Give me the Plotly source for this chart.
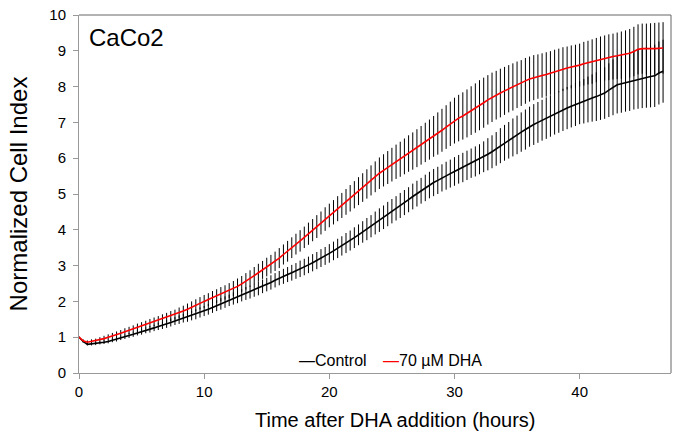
import plotly.graph_objects as go

# Sampling: one reading every 20 minutes, 0 .. 46.67 h
SAMPLE_MIN = 20
N_POINTS = 141
time_h = [round(i * SAMPLE_MIN / 60, 4) for i in range(N_POINTS)]

control = [
    1.00, 0.88, 0.80, 0.81, 0.82, 0.84, 0.86, 0.88, 0.91, 0.94,
    0.98, 1.01, 1.05, 1.08, 1.12, 1.15, 1.19, 1.22, 1.26, 1.30,
    1.33, 1.37, 1.41, 1.45, 1.49, 1.53, 1.56, 1.60, 1.64, 1.69,
    1.73, 1.78, 1.83, 1.88, 1.93, 1.98, 2.03, 2.08, 2.12, 2.17,
    2.22, 2.26, 2.31, 2.36, 2.42, 2.47, 2.53, 2.59, 2.65, 2.70,
    2.75, 2.80, 2.85, 2.91, 2.96, 3.02, 3.08, 3.14, 3.21, 3.27,
    3.34, 3.41, 3.48, 3.55, 3.63, 3.70, 3.78, 3.86, 3.94, 4.02,
    4.10, 4.19, 4.27, 4.35, 4.44, 4.52, 4.60, 4.68, 4.76, 4.84,
    4.93, 5.01, 5.09, 5.17, 5.25, 5.32, 5.38, 5.45, 5.51, 5.57,
    5.63, 5.69, 5.74, 5.80, 5.86, 5.91, 5.97, 6.04, 6.11, 6.18,
    6.26, 6.35, 6.43, 6.50, 6.58, 6.65, 6.73, 6.80, 6.88, 6.94,
    7.00, 7.06, 7.12, 7.18, 7.24, 7.29, 7.35, 7.40, 7.45, 7.50,
    7.55, 7.59, 7.64, 7.68, 7.72, 7.77, 7.82, 7.90, 7.98, 8.05,
    8.08, 8.11, 8.14, 8.18, 8.21, 8.24, 8.26, 8.28, 8.30, 8.38,
    8.43,
]

control_err = [
    0.02, 0.03, 0.03, 0.04, 0.04, 0.04, 0.05, 0.05, 0.05, 0.06,
    0.06, 0.06, 0.07, 0.07, 0.07, 0.08, 0.08, 0.09, 0.09, 0.10,
    0.10, 0.11, 0.11, 0.11, 0.12, 0.12, 0.13, 0.13, 0.14, 0.14,
    0.14, 0.15, 0.15, 0.15, 0.16, 0.16, 0.16, 0.17, 0.17, 0.17,
    0.18, 0.18, 0.18, 0.19, 0.19, 0.19, 0.20, 0.20, 0.20, 0.21,
    0.21, 0.22, 0.22, 0.23, 0.23, 0.23, 0.24, 0.24, 0.25, 0.25,
    0.26, 0.26, 0.27, 0.27, 0.28, 0.28, 0.29, 0.29, 0.30, 0.31,
    0.31, 0.32, 0.33, 0.33, 0.34, 0.34, 0.34, 0.35, 0.35, 0.35,
    0.36, 0.36, 0.36, 0.37, 0.37, 0.38, 0.38, 0.38, 0.39, 0.39,
    0.40, 0.40, 0.41, 0.41, 0.41, 0.42, 0.42, 0.43, 0.45, 0.46,
    0.47, 0.49, 0.50, 0.51, 0.53, 0.54, 0.55, 0.56, 0.56, 0.57,
    0.57, 0.57, 0.58, 0.58, 0.58, 0.58, 0.59, 0.59, 0.59, 0.60,
    0.60, 0.62, 0.64, 0.66, 0.68, 0.70, 0.72, 0.75, 0.78, 0.80,
    0.81, 0.81, 0.82, 0.82, 0.83, 0.84, 0.85, 0.86, 0.87, 0.88,
    0.88,
]

dha = [
    1.00, 0.90, 0.86, 0.88, 0.90, 0.93, 0.96, 1.00, 1.03, 1.07,
    1.11, 1.15, 1.19, 1.23, 1.27, 1.31, 1.35, 1.39, 1.43, 1.47,
    1.51, 1.55, 1.59, 1.63, 1.68, 1.73, 1.78, 1.84, 1.89, 1.95,
    2.00, 2.05, 2.10, 2.15, 2.20, 2.25, 2.30, 2.36, 2.42, 2.49,
    2.56, 2.64, 2.72, 2.80, 2.88, 2.96, 3.04, 3.12, 3.21, 3.31,
    3.40, 3.50, 3.60, 3.69, 3.79, 3.89, 3.99, 4.09, 4.19, 4.30,
    4.40, 4.49, 4.59, 4.68, 4.78, 4.88, 4.98, 5.08, 5.18, 5.28,
    5.38, 5.48, 5.58, 5.66, 5.74, 5.82, 5.90, 5.97, 6.05, 6.13,
    6.20, 6.28, 6.36, 6.44, 6.52, 6.61, 6.69, 6.78, 6.87, 6.96,
    7.05, 7.12, 7.18, 7.25, 7.33, 7.40, 7.48, 7.55, 7.63, 7.70,
    7.76, 7.82, 7.88, 7.94, 7.99, 8.05, 8.10, 8.16, 8.21, 8.25,
    8.28, 8.31, 8.34, 8.38, 8.42, 8.45, 8.49, 8.52, 8.55, 8.57,
    8.60, 8.64, 8.67, 8.70, 8.74, 8.77, 8.80, 8.82, 8.84, 8.86,
    8.88, 8.90, 8.93, 8.98, 9.04, 9.06, 9.05, 9.06, 9.06, 9.07,
    9.08,
]

dha_err = [
    0.02, 0.04, 0.05, 0.06, 0.06, 0.07, 0.08, 0.08, 0.09, 0.09,
    0.09, 0.10, 0.10, 0.10, 0.11, 0.11, 0.11, 0.12, 0.12, 0.12,
    0.13, 0.13, 0.14, 0.14, 0.15, 0.15, 0.16, 0.16, 0.17, 0.17,
    0.18, 0.18, 0.19, 0.19, 0.20, 0.20, 0.21, 0.21, 0.22, 0.22,
    0.23, 0.23, 0.24, 0.25, 0.25, 0.26, 0.26, 0.27, 0.28, 0.28,
    0.29, 0.29, 0.29, 0.30, 0.30, 0.31, 0.31, 0.32, 0.32, 0.33,
    0.33, 0.34, 0.35, 0.35, 0.36, 0.37, 0.38, 0.39, 0.40, 0.41,
    0.42, 0.43, 0.44, 0.45, 0.46, 0.47, 0.48, 0.49, 0.50, 0.51,
    0.52, 0.53, 0.54, 0.55, 0.56, 0.57, 0.59, 0.60, 0.61, 0.62,
    0.64, 0.65, 0.66, 0.67, 0.68, 0.69, 0.70, 0.70, 0.69, 0.69,
    0.68, 0.68, 0.67, 0.66, 0.66, 0.65, 0.64, 0.64, 0.63, 0.63,
    0.62, 0.62, 0.62, 0.61, 0.61, 0.61, 0.61, 0.60, 0.60, 0.60,
    0.60, 0.61, 0.61, 0.62, 0.62, 0.63, 0.63, 0.64, 0.64, 0.65,
    0.66, 0.67, 0.68, 0.69, 0.70, 0.70, 0.71, 0.71, 0.72, 0.72,
    0.72,
]

x_ticks = [0, 10, 20, 30, 40]
y_ticks = [0, 1, 2, 3, 4, 5, 6, 7, 8, 9, 10]

FONT = "Arial, Liberation Sans, sans-serif"

fig = go.Figure()
fig.add_trace(go.Scatter(
    x=time_h, y=control, mode="lines", name="Control",
    line=dict(color="black", width=1.6),
    error_y=dict(type="data", array=control_err, visible=True,
                 color="black", thickness=1, width=0),
))
fig.add_trace(go.Scatter(
    x=time_h, y=dha, mode="lines", name="70 µM DHA",
    line=dict(color="#ff0000", width=1.6),
    error_y=dict(type="data", array=dha_err, visible=True,
                 color="black", thickness=1, width=0),
))

fig.update_layout(
    width=676, height=437,
    margin=dict(l=79, r=5, t=15, b=64),
    paper_bgcolor="white", plot_bgcolor="white",
    showlegend=False,
    font=dict(family=FONT, color="black", size=15),
    xaxis=dict(
        range=[0, 47.3], tickvals=x_ticks, ticks="outside", ticklen=5,
        tickcolor="#999999", showline=True, linecolor="#999999", linewidth=1,
        showgrid=False, zeroline=False, tickfont=dict(size=15),
    ),
    yaxis=dict(
        range=[0, 10], tickvals=y_ticks, ticks="outside", ticklen=5,
        tickcolor="#999999", showline=True, linecolor="#999999", linewidth=1,
        showgrid=False, zeroline=False, tickfont=dict(size=15),
        ticklabelstandoff=4,
        title=dict(text="Normalized Cell Index", font=dict(size=24), standoff=14),
    ),
    shapes=[
        dict(type="line", xref="paper", yref="paper", x0=0, x1=1, y0=1, y1=1,
             line=dict(color="#666666", width=1)),
        dict(type="line", xref="paper", yref="paper", x0=1, x1=1, y0=0, y1=1,
             line=dict(color="#666666", width=1)),
    ],
    annotations=[
        dict(text="CaCo2", xref="paper", yref="paper", x=0.014, y=0.936,
             xanchor="left", yanchor="middle", showarrow=False,
             font=dict(size=24, family=FONT)),
        dict(text="Time after DHA addition (hours)", xref="paper", yref="paper",
             x=(253 - 79) / 592, y=(373 - 420) / 358,
             xanchor="left", yanchor="middle", showarrow=False,
             font=dict(size=20, family=FONT)),
        dict(text="<span style='color:black'>—</span>Control",
             xref="paper", yref="paper", x=(297 - 79) / 592, y=0.034,
             xanchor="left", yanchor="middle", showarrow=False,
             font=dict(size=16, family=FONT)),
        dict(text="<span style='color:#ff0000'>—</span>70 µM DHA",
             xref="paper", yref="paper", x=(381 - 79) / 592, y=0.034,
             xanchor="left", yanchor="middle", showarrow=False,
             font=dict(size=16, family=FONT)),
    ],
)

fig.write_html("out.html")
